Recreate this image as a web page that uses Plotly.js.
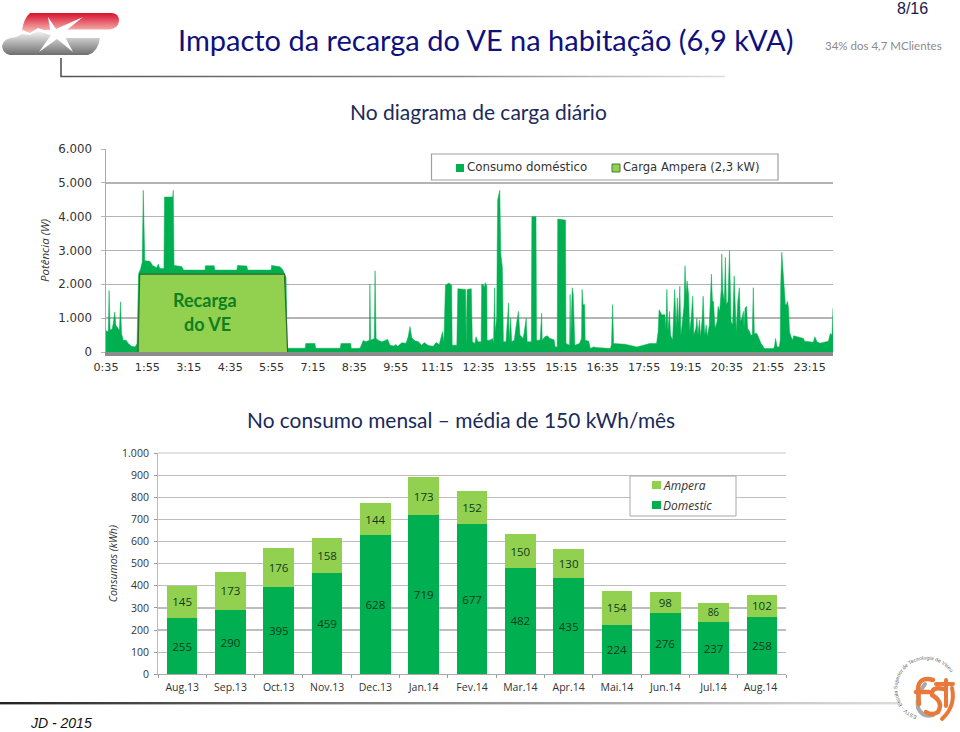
<!DOCTYPE html>
<html><head><meta charset="utf-8">
<script src="https://cdn.plot.ly/plotly-3.0.1.min.js"></script>
<style>html,body{margin:0;padding:0;background:#fff;overflow:hidden}
#wrap{position:relative;width:960px;height:732px}
#chart{position:absolute;left:0;top:0;width:960px;height:732px}
#deco{position:absolute;left:0;top:0;pointer-events:none}</style>
</head><body><div id="wrap"><div id="chart"></div>
<svg id="deco" width="960" height="732" viewBox="0 0 960 732">
<defs>
<linearGradient id="red" x1="0" y1="0" x2="0" y2="1"><stop offset="0" stop-color="#d8102c"/><stop offset="1" stop-color="#f8c8c0"/></linearGradient>
<linearGradient id="gry" x1="0" y1="0" x2="0" y2="1"><stop offset="0" stop-color="#f4f4f4"/><stop offset="1" stop-color="#6e6e6e"/></linearGradient>
<linearGradient id="hl" x1="0" y1="0" x2="1" y2="0"><stop offset="0" stop-color="#555"/><stop offset="0.6" stop-color="#888"/><stop offset="1" stop-color="#ddd"/></linearGradient>
<linearGradient id="fl" x1="0" y1="0" x2="1" y2="0"><stop offset="0" stop-color="#222"/><stop offset="0.35" stop-color="#777"/><stop offset="1" stop-color="#ddd"/></linearGradient>
<path id="arc" d="M917,716 A29,29 0 1 1 952,675"/>
</defs>
<path d="M30,13 H111 Q119,13 119,21 Q118,29 109,29.5 H60 L44,30 L38,28 L30,33 L22,30 Q24,18 30,13 Z" fill="url(#red)"/>
<path d="M16,37 L22,34 L30,35 L38,31 L44,33 L60,38 H100 Q98,52 88,55 H10 Q3,54 2,46 Q3,38 16,37 Z" fill="url(#gry)"/>
<path d="M48,17 L56,29 L83,17 L63,33 L73,52 L57,39 L39,52 L51,35 Z" fill="#fff"/>
<path d="M61,58 V76.5 H725" fill="none" stroke="url(#hl)" stroke-width="1.6"/>
<rect x="0" y="702" width="900" height="2.4" fill="url(#fl)"/>
<g fill="none" stroke-linecap="round">
<path d="M925,684 Q916,695 918,708 Q923,718 933,715" stroke="#a9a9a9" stroke-width="4"/>
<path d="M952,688 Q956,706 942,719" stroke="#e8793a" stroke-width="4"/>
<path d="M933,680 Q918,676 918,690 L919,704 M916,692 L929,692" stroke="#e8793a" stroke-width="4.5"/>
<path d="M944,689 Q931,686 932,695 Q944,702 938,712 Q932,716 926,712" stroke="#e8793a" stroke-width="4.5"/>
<path d="M936,684 H953 M946,680 L946,706" stroke="#e8793a" stroke-width="4"/>
</g>
<text font-family="Liberation Sans" font-size="5.2" fill="#666"><textPath href="#arc">ESTV - Escola Superior de Tecnologia de Viseu</textPath></text>
</svg></div>
<script>
var timeMinutes = [35,37.5,39.5,41,43,47,49,52,54,58,61,63,65,68.5,74,78,84.5,91,95,98,102,105,107,110,120,125,133,136,139,147,148,164,165,166.5,181,185,226.5,227,244,245.5,288,289,307,309,354,355,371,377,381,383,385,387,420,421,439,440,488,489,508,509,526,532,537.5,544,545,546.5,553.5,555,557,561,568,576,579,584,591,595,599,606.5,615,619,622.5,626,632,639,645,650,658,667.5,673,679,685.5,688,691,698,703,704,713,715,730,731,733,741,743,748,750,754,760,761,764,766,768,771,771.5,777,782,784,786,787,790,791,792,796,798,801,803,808,813,814,817,819,824,827,832,835,841,843,847,849,857,858,866,867,874,877,878,883,888,893,901,903,907,908,923,924,931,932,933,936,938,941,950,954,955,957,960,961,968,971,977,983,990,1003,1010,1012,1014,1016,1028,1038,1061,1086,1099,1102,1104,1109,1111,1115,1117,1119,1121,1124,1126,1130,1134,1137,1139,1141,1144,1146,1149,1152,1154,1156,1158,1161,1163,1166,1169,1171,1175,1177,1179,1182,1184,1187,1189,1192,1195,1197,1201,1203,1205,1207,1209,1212,1216,1218,1221,1224,1225,1227,1230,1232,1234,1237,1240,1243,1246,1249,1251,1253,1256,1259,1261,1264,1267,1268,1270,1273,1275,1279,1281,1284,1286,1288,1293,1296,1301,1305,1307,1325,1327,1329,1332,1336,1338,1339,1341,1343,1346,1348,1350,1352,1354,1356,1359,1362,1364,1373,1383,1385,1392,1402,1405,1409,1415,1423,1431,1435,1438,1440];
var domesticW = [640,590,640,1820,640,690,840,1180,790,690,640,1480,540,345,345,250,170,150,250,2315,2460,2660,4780,2700,2680,2560,2490,2600,2470,2470,4580,4580,4780,2560,2530,2420,2420,2550,2550,2420,2420,2560,2540,2420,2420,2560,2520,2420,2300,2200,110,110,110,250,250,110,110,250,250,100,110,340,300,350,2000,350,400,2400,400,350,300,350,380,200,180,220,170,270,260,450,750,420,330,300,200,280,190,170,280,220,600,260,1970,2040,1970,200,200,1870,1850,200,1850,1870,300,250,450,300,300,2000,2000,1900,2050,1950,350,350,400,250,1900,600,1000,3000,4500,4780,2900,2500,300,300,1450,350,1000,300,350,700,1200,500,400,550,1000,300,300,4000,4000,350,350,1150,350,450,480,400,360,150,150,3930,3900,250,200,1700,250,1900,1700,200,250,400,1850,1400,1400,350,320,100,150,130,120,100,100,240,1400,250,230,230,150,250,250,600,1250,1100,1100,1100,700,1850,600,1200,500,350,1850,700,1600,800,1950,500,900,1350,2550,1700,2100,1700,600,1000,1650,500,700,1000,500,950,450,950,1650,500,800,450,800,1600,2300,1500,1500,700,900,1350,1200,1850,2900,1800,1500,2800,1400,1500,3000,900,800,2250,1000,600,1500,1900,900,1000,1200,700,1300,1350,700,600,500,500,1900,550,550,450,250,170,100,100,170,400,150,150,350,2000,2950,2500,1700,1400,1400,1500,1300,600,450,350,480,450,400,320,300,290,450,300,260,300,320,550,500,1300];
var chargeTime = [97,100,380,386];
var chargeW = [0,2300,2300,0];
var timeTicks = [35,115,195,275,355,435,515,595,675,755,835,915,995,1075,1155,1235,1315,1395];
var timeLabels = ["0:35","1:55","3:15","4:35","5:55","7:15","8:35","9:55","11:15","12:35","13:55","15:15","16:35","17:55","19:15","20:35","21:55","23:15"];
var powerTicks = [0,1000,2000,3000,4000,5000,6000];
var powerLabels = ["0","1.000","2.000","3.000","4.000","5.000","6.000"];
var months = ["Aug.13","Sep.13","Oct.13","Nov.13","Dec.13","Jan.14","Fev.14","Mar.14","Apr.14","Mai.14","Jun.14","Jul.14","Aug.14 "];
var domestic = [255,290,395,459,628,719,677,482,435,224,276,237,258];
var ampera = [145,173,176,158,144,173,152,150,130,154,98,86,102];
var energyTicks = [0,100,200,300,400,500,600,700,800,900,1000];
var energyLabels = ["0","100","200","300","400","500","600","700","800","900","1.000"];

var GREEN="#00B050", LIGHT="#92D050", GRID="#b4b4b4";
var sx=function(p){return p/960}, sy=function(p){return 1-p/732};
var traces=[
 {type:"scatter",mode:"lines",x:timeMinutes,y:domesticW,name:"Consumo doméstico",fill:"tozeroy",fillcolor:GREEN,line:{width:1,color:"rgba(0,176,80,0.5)"},xaxis:"x",yaxis:"y",showlegend:false,hoverinfo:"skip"},
 {type:"scatter",mode:"lines",x:chargeTime,y:chargeW,name:"Carga Ampera (2,3 kW)",fill:"tozeroy",fillcolor:LIGHT,line:{width:1.2,color:"#2f6b2a"},xaxis:"x",yaxis:"y",showlegend:false,hoverinfo:"skip"},
 {type:"bar",x:months,y:domestic,name:"Domestic",marker:{color:GREEN},text:domestic.map(String),textposition:"inside",insidetextanchor:"middle",textangle:0,insidetextfont:{family:"Open Sans",size:11.5,color:"#0c3b20"},xaxis:"x2",yaxis:"y2",showlegend:false,hoverinfo:"skip"},
 {type:"bar",x:months,y:ampera,name:"Ampera",marker:{color:LIGHT},text:ampera.map(String),textposition:"inside",insidetextanchor:"middle",textangle:0,insidetextfont:{family:"Open Sans",size:11.5,color:"#0c3b20"},xaxis:"x2",yaxis:"y2",showlegend:false,hoverinfo:"skip"}
];
function note(t,x,y,size,color,anchor,fam,style){
 return {text:t,xref:"paper",yref:"paper",x:sx(anchor?x:x-2),y:sy(y),xanchor:anchor||"left",yanchor:"middle",showarrow:false,font:{family:fam||"Lato",size:size,color:color,style:style||"normal"}};
}
var annotations=[
 note("Impacto da recarga do VE na habitação (6,9 kVA)",178,39.5,29,"#10107c"),
 note("8/16",897,9,16,"#1a1a4a",null,"Liberation Sans"),
 note("34% dos 4,7 MClientes",825,46,11.5,"#8a8a8a"),
 note("No diagrama de carga diário",350,111.5,21,"#1a2a5a"),
 note("No consumo mensal – média de 150 kWh/mês",247,419.5,20.9,"#1a2a5a"),
 note("JD - 2015",30,723,14,"#111",null,"Liberation Sans","italic"),
 note("<b>Recarga</b>",205,300,18,"#0f7f20","center"),
 note("<b>do VE</b>",207,324,18,"#0f7f20","center"),
 note("Consumo doméstico",467,167,11.8,"#333",null,"DejaVu Sans"),
 note("Carga Ampera (2,3 kW)",623,167,11.6,"#333",null,"DejaVu Sans"),
 note("Ampera",663,485,12,"#333",null,"Open Sans","italic"),
 note("Domestic",663,505,12,"#333",null,"Open Sans","italic")
];
function box(x0,y0,x1,y1,fill,lc,lw){return {type:"rect",xref:"paper",yref:"paper",x0:sx(x0),x1:sx(x1),y0:sy(y0),y1:sy(y1),fillcolor:fill,line:{color:lc||fill,width:lw||0},layer:"above"};}
var shapes=[
 box(431.5,154,778,180,"#fff","#a0a0a0",1.2),
 box(456,164,464,172,GREEN),
 box(612,164,620,172,LIGHT,"#4a7a30",1),
 box(630,476,736,516,"#fff","#a8a8a8",1),
 box(652,481,661,489,LIGHT),
 box(652,501,661,509,GREEN),
 {type:"line",xref:"paper",yref:"paper",x0:sx(158),x1:sx(786),y0:sy(453),y1:sy(453),line:{color:"#e2e2e2",width:2},layer:"below"}
];
var layout={
 width:960,height:732,autosize:false,margin:{l:0,r:0,t:0,b:0},paper_bgcolor:"#fff",plot_bgcolor:"#fff",
 barmode:"stack",bargap:0.365,showlegend:false,
 xaxis:{domain:[sx(106),sx(833)],range:[35,1440],tickmode:"array",tickvals:timeTicks,ticktext:timeLabels,tickangle:0,ticks:"",ticklabelstandoff:2,showgrid:false,zeroline:false,showline:true,linecolor:"#8c8c8c",linewidth:4,anchor:"y",tickfont:{family:"DejaVu Sans",size:11.2,color:"#333"}},
 yaxis:{domain:[sy(352),sy(149)],range:[0,6000],tickmode:"array",tickvals:powerTicks,ticktext:powerLabels,ticks:"outside",ticklen:4,ticklabelstandoff:6,tickcolor:GRID,gridcolor:GRID,gridwidth:1.5,zeroline:false,showline:true,linecolor:"#aaa",linewidth:1.5,anchor:"x",tickfont:{family:"DejaVu Sans",size:11.8,color:"#333"},title:{text:"Potência (W)",standoff:6,font:{family:"Open Sans",size:11.5,color:"#333",style:"italic"}}},
 xaxis2:{domain:[sx(158),sx(786)],type:"category",categoryorder:"array",categoryarray:months,tickson:"boundaries",ticks:"outside",ticklen:3,ticklabelstandoff:3,tickcolor:"#999",showgrid:false,zeroline:false,showline:true,linecolor:"#aaa",linewidth:1,anchor:"y2",tickangle:0,tickfont:{family:"Open Sans",size:10.5,color:"#333"}},
 yaxis2:{domain:[sy(674.3),sy(453)],range:[0,1000],tickmode:"array",tickvals:energyTicks,ticktext:energyLabels,ticks:"outside",ticklen:3,ticklabelstandoff:3,tickcolor:"#999",gridcolor:"#bdbdbd",gridwidth:1.2,zeroline:false,showline:true,linecolor:"#bbb",linewidth:1,anchor:"x2",tickfont:{family:"Open Sans",size:10.5,color:"#333"},title:{text:"Consumos (kWh)",standoff:2,font:{family:"Open Sans",size:10.5,color:"#333",style:"italic"}}},
 annotations:annotations,shapes:shapes
};
Plotly.newPlot("chart",traces,layout,{displayModeBar:false,staticPlot:true});
</script></body></html>
